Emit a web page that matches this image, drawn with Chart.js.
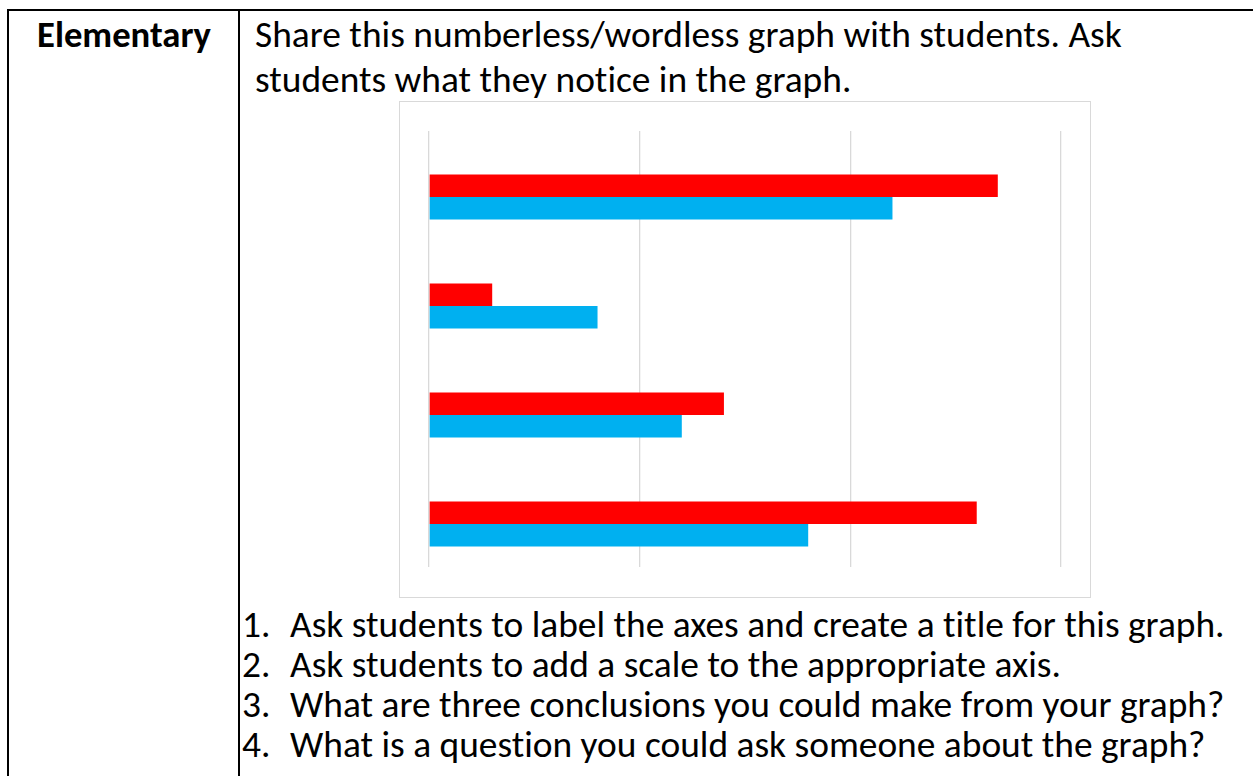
<!DOCTYPE html>
<html>
<head>
<meta charset="utf-8">
<script src="https://cdn.jsdelivr.net/npm/chart.js@4/dist/chart.umd.min.js"></script>
<style>
  html, body { margin:0; padding:0; background:#fff; }
  body { width:1253px; height:776px; position:relative; overflow:hidden;
         font-family: Carlito, "Open Sans", sans-serif; color:#000;
         font-variant-ligatures: none; font-feature-settings: "liga" 0, "clig" 0; }
  .rule { position:absolute; background:#000; }
  .txt { position:absolute; white-space:nowrap; line-height:1; }
  #chartBox { position:absolute; left:399px; top:101px; width:690px; height:495px;
              border:1px solid #d9d9d9; }
  #chartBox canvas { display:block; }
</style>
</head>
<body>
<div class="rule" style="left:7px;top:9px;width:1246px;height:2px;"></div>
<div class="rule" style="left:7px;top:9px;width:2px;height:767px;"></div>
<div class="rule" style="left:238px;top:9px;width:2px;height:767px;"></div>

<div id="chartBox"><canvas id="c" width="690" height="495"></canvas></div>

<script>
// ---- data ----
const categories = ['A', 'B', 'C', 'D'];
const redValues  = [2.7, 0.3, 1.4, 2.6];
const blueValues = [2.2, 0.8, 1.2, 1.8];
const xTicks     = [0, 1, 2, 3];

// ---- text ----
const header = 'Elementary';
const introLines = [
  'Share this numberless/wordless graph with students. Ask',
  'students what they notice in the graph.'
];
const questions = [
  'Ask students to label the axes and create a title for this graph.',
  'Ask students to add a scale to the appropriate axis.',
  'What are three conclusions you could make from your graph?',
  'What is a question you could ask someone about the graph?'
];

function makeText(str, x, baseline, sizePx, bold) {
  const d = document.createElement('div');
  d.className = 'txt';
  d.style.left = x + 'px';
  d.style.top = '0px';
  d.style.fontSize = sizePx + 'px';
  if (bold) d.style.fontWeight = 'bold';
  d.textContent = str;
  const m = document.createElement('span');
  m.style.cssText = 'display:inline-block;width:0;height:0;vertical-align:baseline;';
  d.appendChild(m);
  document.body.appendChild(d);
  const off = m.offsetTop;
  d.style.top = (baseline - off) + 'px';
  return d;
}
function fitSize(str, targetW, bold) {
  const d = makeText(str, 0, -500, 40, bold);
  const w = d.getBoundingClientRect().width;
  d.remove();
  return 40 * targetW / w;
}

const bodySize = fitSize(introLines[0], 867, false);
const boldSize = fitSize(header, 174, true);

makeText(header, 37, 46.7, boldSize, true);
makeText(introLines[0], 255, 46.7, bodySize, false);
makeText(introLines[1], 255, 91.7, bodySize, false);
const qBase = [636.5, 676.5, 716.5, 756.5];
questions.forEach((q, i) => {
  makeText((i + 1) + '.', 242, qBase[i], bodySize, false);
  makeText(q, 290, qBase[i], bodySize, false);
});

// ---- chart ----
new Chart(document.getElementById('c'), {
  type: 'bar',
  data: {
    labels: categories,
    datasets: [
      { data: redValues,  backgroundColor: '#FF0000', borderWidth: 0 },
      { data: blueValues, backgroundColor: '#00B0F0', borderWidth: 0 }
    ]
  },
  options: {
    indexAxis: 'y',
    responsive: false,
    animation: false,
    events: [],
    layout: { padding: { left: 29, right: 29, top: 29, bottom: 30 } },
    datasets: { bar: { categoryPercentage: 0.413, barPercentage: 1 } },
    plugins: { legend: { display: false }, tooltip: { enabled: false }, title: { display: false } },
    scales: {
      x: {
        type: 'linear', min: xTicks[0], max: xTicks[xTicks.length - 1],
        afterBuildTicks: s => { s.ticks = xTicks.map(v => ({ value: v })); },
        ticks: { display: false, padding: 0 },
        grid: { color: '#d9d9d9', lineWidth: 1.3, drawTicks: false },
        border: { display: false }
      },
      y: {
        type: 'category',
        display: false,
        afterBuildTicks: s => { s._startValue -= 0.105; }
      }
    }
  }
});
</script>
</body>
</html>
